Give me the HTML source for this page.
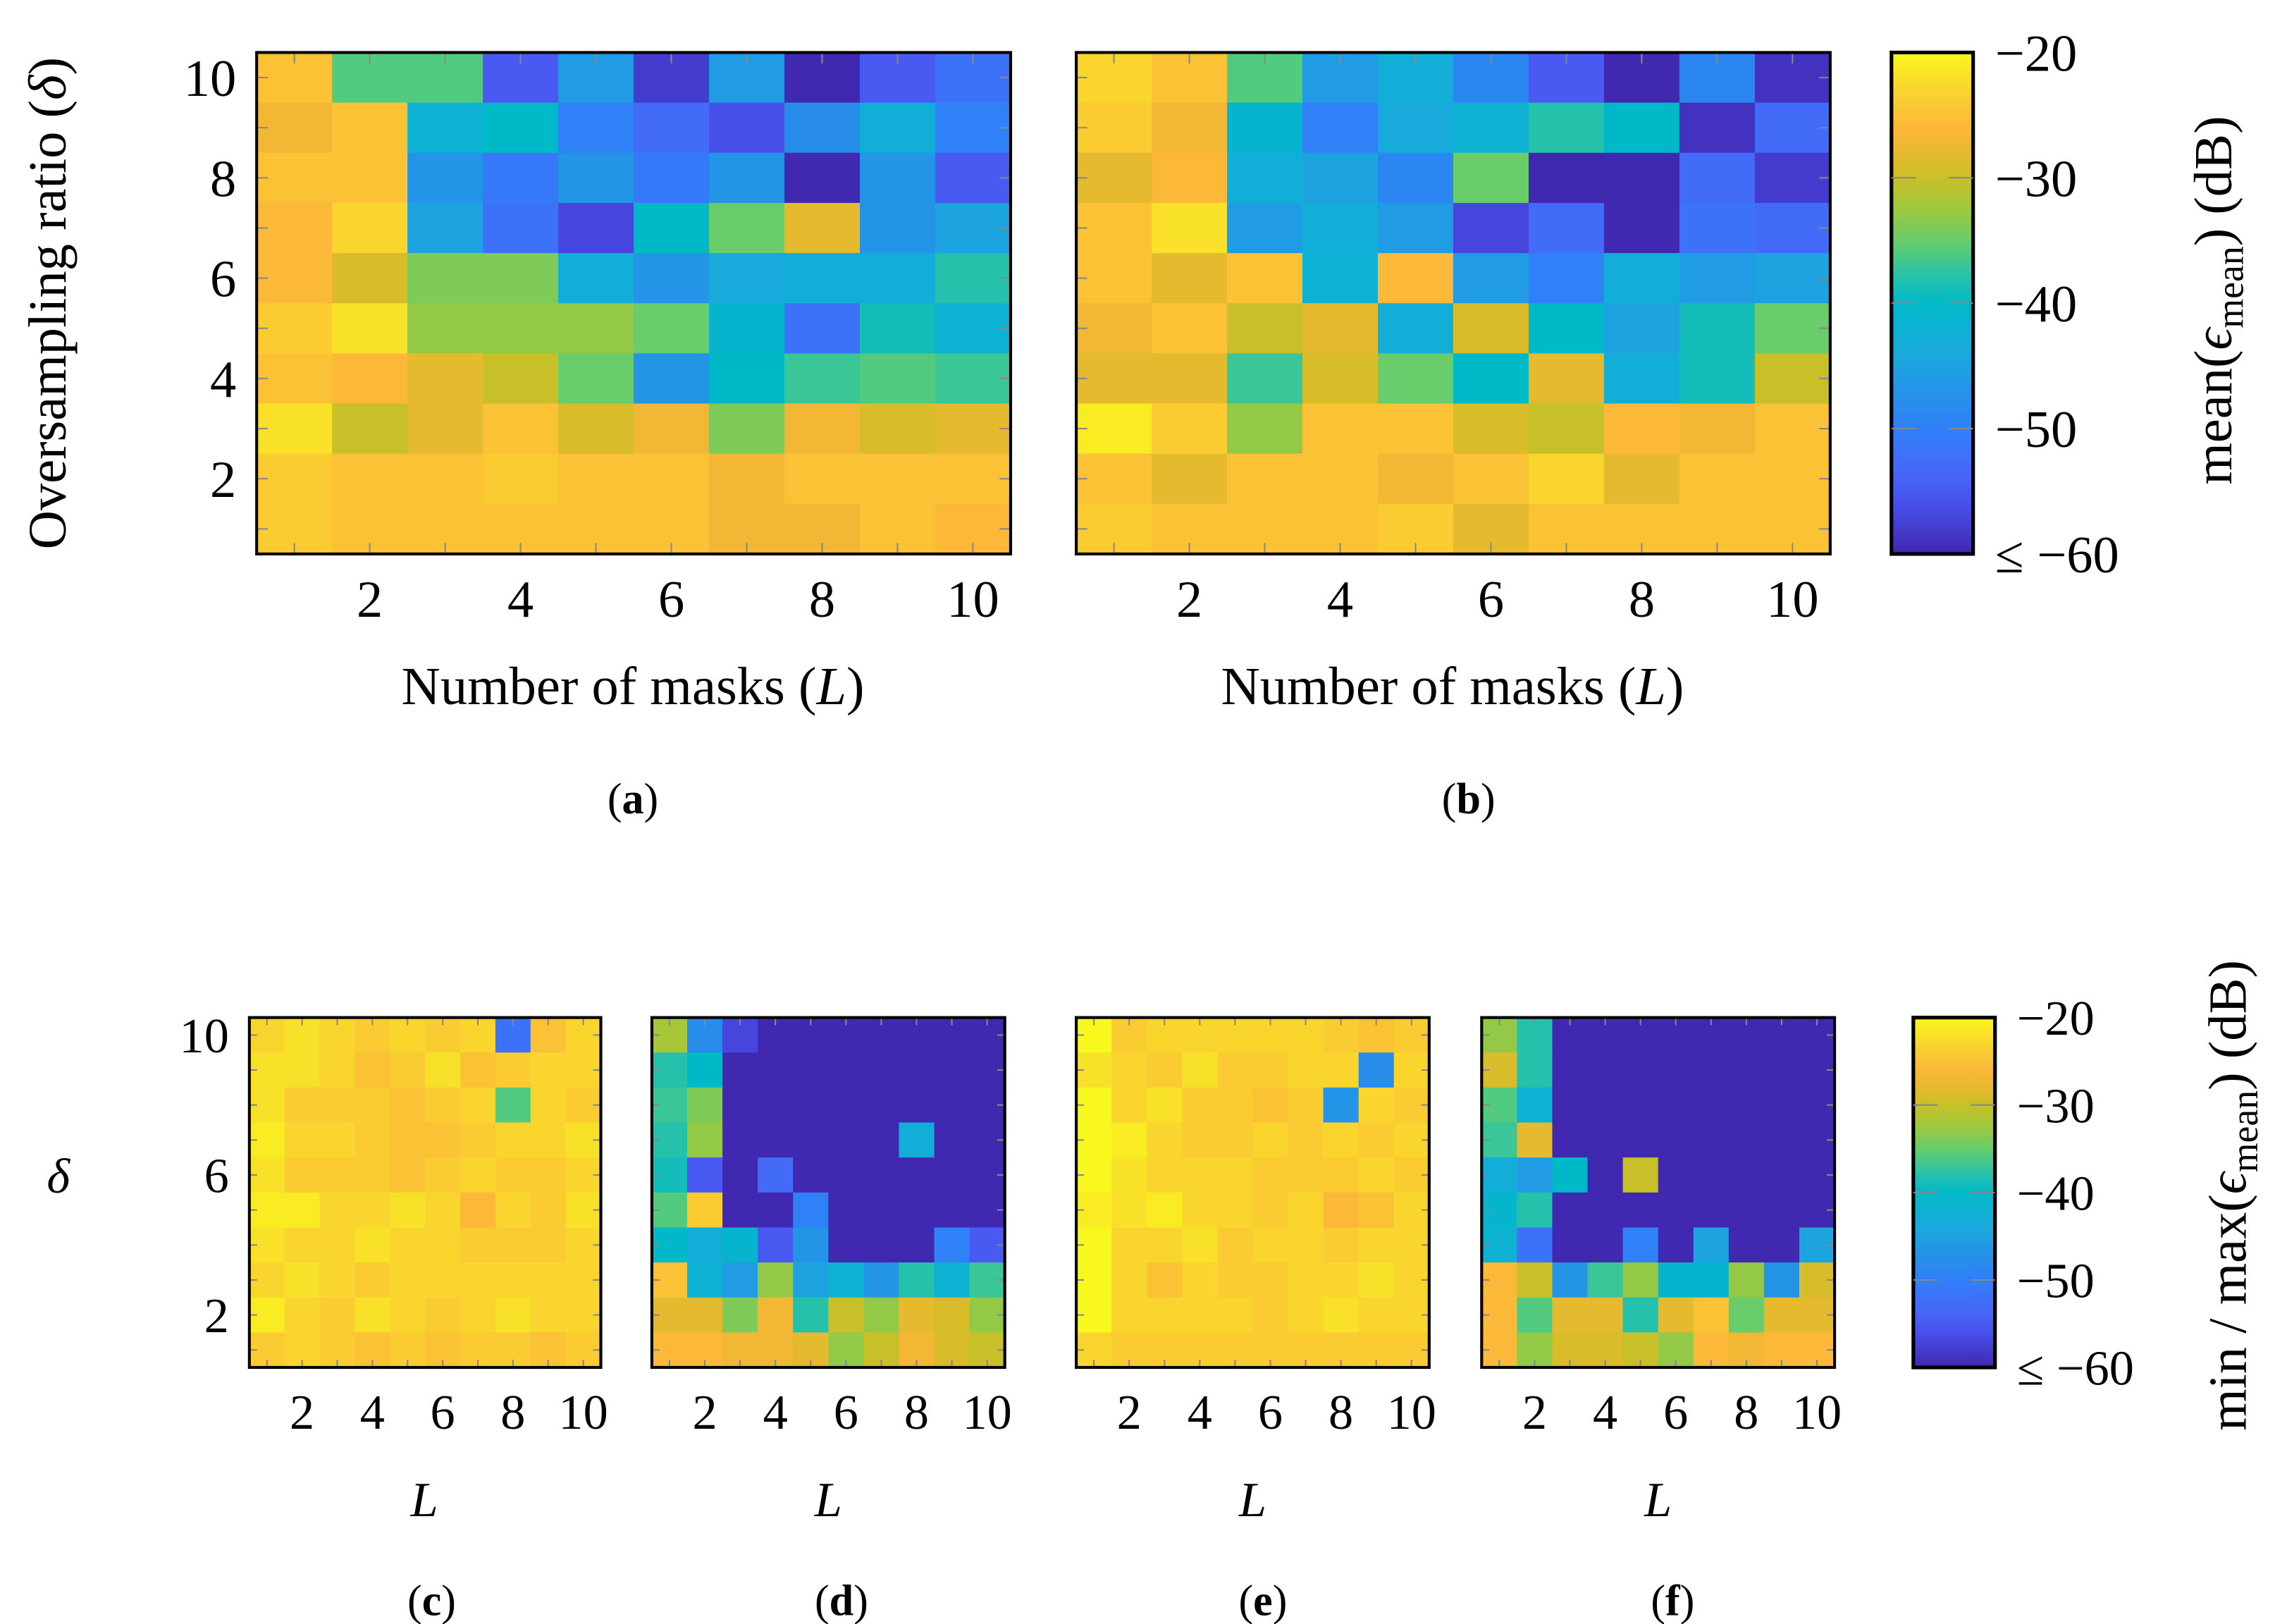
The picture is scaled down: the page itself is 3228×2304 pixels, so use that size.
<!DOCTYPE html>
<html><head><meta charset="utf-8"><style>
html,body{margin:0;padding:0;background:#fff;}
svg{display:block;}
text{font-family:"Liberation Serif",serif;fill:#000;}
</style></head><body>
<svg id="fig" width="3228" height="2304" viewBox="0 0 1560 1114" preserveAspectRatio="none" xmlns="http://www.w3.org/2000/svg">
<defs>
<linearGradient id="cbgrad" x1="0" y1="1" x2="0" y2="0">
<stop offset="0" stop-color="rgb(64,40,176)"/><stop offset="0.1" stop-color="rgb(72,80,235)"/>
<stop offset="0.15" stop-color="rgb(72,100,248)"/><stop offset="0.25" stop-color="rgb(48,128,248)"/>
<stop offset="0.3" stop-color="rgb(40,140,235)"/><stop offset="0.4" stop-color="rgb(25,170,220)"/>
<stop offset="0.5" stop-color="rgb(0,185,200)"/><stop offset="0.56" stop-color="rgb(45,195,165)"/>
<stop offset="0.62" stop-color="rgb(100,205,110)"/><stop offset="0.69" stop-color="rgb(160,200,60)"/>
<stop offset="0.75" stop-color="rgb(200,192,40)"/><stop offset="0.77" stop-color="rgb(215,188,40)"/>
<stop offset="0.845" stop-color="rgb(252,182,58)"/><stop offset="0.93" stop-color="rgb(250,215,45)"/>
<stop offset="1" stop-color="rgb(248,248,30)"/>
</linearGradient>
</defs>
</svg>
<script>
const Lvals=[1,2,3,4,5,6,7,8,9,10];
const deltas=[10,9,8,7,6,5,4,3,2,1];
const xTickLabels=[2,4,6,8,10];
const yTickLabelsTop=[10,8,6,4,2];
const yTickLabelsBottom=[10,6,2];
const cbTickValues=[-20,-30,-40,-50,-60];
const cbTickLabels=["−20","−30","−40","−50","≤ −60"];
const dataA=[
[-25,-36,-36,-55,-46,-58,-46,-60,-55,-52],
[-27,-25,-42,-40,-50,-53,-56,-48,-43,-50],
[-25,-25,-47,-51,-47,-51,-47,-60,-47,-55],
[-26,-23,-45,-52,-57,-40,-35,-28,-47,-45],
[-26,-29,-34,-34,-43,-47,-44,-43,-43,-38],
[-24,-22,-33,-33,-33,-35,-41,-52,-39,-42],
[-25,-26,-28,-30,-35,-47,-40,-37,-36,-37],
[-22,-30,-28,-25,-29,-27,-34,-27,-29,-28],
[-24,-25,-25,-24,-25,-25,-27,-25,-25,-25],
[-24,-25,-25,-25,-25,-25,-27,-27,-25,-26]];
const dataB=[
[-23,-25,-36,-46,-43,-49,-55,-60,-49,-59],
[-24,-27,-41,-50,-44,-42,-38,-40,-59,-53],
[-28,-26,-43,-45,-49,-35,-60,-60,-53,-58],
[-25,-22,-46,-43,-46,-57,-53,-60,-52,-53],
[-25,-28,-25,-42,-26,-46,-50,-43,-46,-45],
[-27,-25,-30,-28,-43,-29,-40,-45,-39,-35],
[-28,-28,-37,-29,-35,-40,-28,-43,-39,-30],
[-21,-24,-33,-25,-25,-29,-30,-26,-27,-25],
[-25,-28,-25,-25,-27,-25,-23,-28,-25,-25],
[-24,-25,-25,-25,-24,-28,-25,-25,-25,-25]];
const dataC=[
[-23,-22,-23,-24,-23,-24,-23,-52,-25,-23],
[-22,-22,-23,-25,-24,-22,-25,-24,-23,-23],
[-22,-24,-24,-24,-25,-24,-23,-36,-23,-24],
[-21,-23,-23,-24,-25,-25,-24,-23,-23,-22],
[-22,-24,-24,-24,-25,-24,-23,-24,-24,-23],
[-21,-21,-23,-23,-22,-23,-26,-23,-24,-22],
[-22,-23,-23,-22,-23,-23,-24,-24,-24,-23],
[-23,-22,-23,-24,-23,-23,-23,-23,-23,-23],
[-21,-23,-24,-22,-23,-24,-23,-22,-23,-23],
[-24,-23,-24,-25,-24,-25,-24,-24,-25,-24]];
const dataD=[
[-32,-48,-57,-60,-60,-60,-60,-60,-60,-60],
[-38,-40,-60,-60,-60,-60,-60,-60,-60,-60],
[-37,-34,-60,-60,-60,-60,-60,-60,-60,-60],
[-38,-33,-60,-60,-60,-60,-60,-43,-60,-60],
[-39,-55,-60,-53,-60,-60,-60,-60,-60,-60],
[-36,-24,-60,-60,-50,-60,-60,-60,-60,-60],
[-40,-43,-41,-55,-47,-60,-60,-60,-50,-55],
[-25,-42,-46,-33,-45,-42,-47,-38,-42,-37],
[-28,-28,-34,-27,-38,-30,-33,-28,-29,-33],
[-26,-26,-27,-27,-28,-33,-30,-27,-29,-30]];
const dataE=[
[-20,-24,-23,-23,-23,-23,-23,-24,-25,-24],
[-22,-23,-24,-22,-24,-24,-23,-23,-48,-23],
[-20,-23,-22,-24,-24,-25,-24,-47,-23,-24],
[-19,-21,-23,-24,-24,-23,-24,-23,-24,-23],
[-20,-22,-23,-23,-23,-24,-24,-24,-23,-24],
[-21,-22,-21,-23,-23,-24,-23,-26,-25,-23],
[-20,-23,-23,-22,-24,-23,-23,-24,-23,-23],
[-20,-23,-25,-23,-24,-24,-23,-23,-22,-23],
[-20,-23,-23,-23,-23,-24,-23,-22,-23,-23],
[-23,-24,-24,-24,-24,-24,-24,-24,-24,-24]];
const dataF=[
[-33,-38,-60,-60,-60,-60,-60,-60,-60,-60],
[-29,-38,-60,-60,-60,-60,-60,-60,-60,-60],
[-36,-42,-60,-60,-60,-60,-60,-60,-60,-60],
[-37,-28,-60,-60,-60,-60,-60,-60,-60,-60],
[-43,-46,-40,-60,-30,-60,-60,-60,-60,-60],
[-41,-38,-60,-60,-60,-60,-60,-60,-60,-60],
[-42,-52,-60,-60,-50,-60,-45,-60,-60,-45],
[-26,-30,-47,-37,-33,-41,-41,-33,-47,-29],
[-26,-36,-28,-28,-38,-28,-25,-35,-28,-28],
[-26,-33,-29,-29,-30,-33,-26,-27,-26,-26]];

const NS="http://www.w3.org/2000/svg";
const svg=document.getElementById('fig');
const stops=[[0,[64,40,176]],[0.1,[72,80,235]],[0.15,[72,100,248]],[0.25,[48,128,248]],[0.3,[40,140,235]],[0.4,[25,170,220]],[0.5,[0,185,200]],[0.56,[45,195,165]],[0.62,[100,205,110]],[0.69,[160,200,60]],[0.75,[200,192,40]],[0.77,[215,188,40]],[0.845,[252,182,58]],[0.93,[250,215,45]],[1,[248,248,30]]];
function cmap(v){let t=Math.max(0,Math.min(1,(v+60)/40));
 for(let i=1;i<stops.length;i++){if(t<=stops[i][0]){const a=stops[i-1],b=stops[i];const f=(t-a[0])/(b[0]-a[0]);
 const c=a[1].map((x,k)=>Math.round(x+(b[1][k]-x)*f));return `rgb(${c[0]},${c[1]},${c[2]})`;}}
 return 'rgb(248,248,30)';}
function mk(tag,attrs,parent){const e=document.createElementNS(NS,tag);for(const k in attrs)e.setAttribute(k,attrs[k]);(parent||svg).appendChild(e);return e;}
function txt(x,y,s,size,parent,anchor){const t=mk('text',{x:x,y:y,'font-size':size,'text-anchor':anchor||'middle'},parent);t.textContent=s;return t;}

function panel(name,data,x0,y0,w,h,fs,yLabels,xlabelY,ylabelX){
 const g=mk('g',{});
 
 
 const cw=w/Lvals.length,ch=h/deltas.length;
 const xs=L=>x0+(L-0.5)*cw, ys=d=>y0+h-(d-0.5)*ch;
 deltas.forEach((d,r)=>Lvals.forEach((L,c)=>{
  const cell=mk('rect',{x:xs(L)-cw/2,y:ys(d)-ch/2,width:cw+0.4,height:ch+0.4,fill:cmap(data[r][c])},g);
  
  
 }));
 const tl=Math.min(cw,ch)*0.22;
 Lvals.forEach(L=>{mk('line',{x1:xs(L),x2:xs(L),y1:y0+h,y2:y0+h-tl,stroke:'#888','stroke-width':1},g);mk('line',{x1:xs(L),x2:xs(L),y1:y0,y2:y0+tl,stroke:'#888','stroke-width':1},g);});
 deltas.forEach(d=>{mk('line',{x1:x0,x2:x0+tl,y1:ys(d),y2:ys(d),stroke:'#888','stroke-width':1},g);mk('line',{x1:x0+w,x2:x0+w-tl,y1:ys(d),y2:ys(d),stroke:'#888','stroke-width':1},g);});
 const fr=mk('rect',{x:x0,y:y0,width:w,height:h,fill:'none',stroke:'#000','stroke-width':2},g);
 
 
 xTickLabels.forEach(L=>{const t=txt(xs(L),xlabelY,String(L),fs,g);
  
  });
 if(yLabels)yLabels.forEach(d=>{const t=txt(ylabelX,ys(d)+fs*0.35,String(d),fs,g,'end');
  
  });
}
function colorbar(name,x0,y0,w,h,lx,fs){
 const g=mk('g',{});
 
 
 mk('rect',{x:x0,y:y0,width:w,height:h,fill:'url(#cbgrad)',stroke:'#000','stroke-width':2.5},g);
 const yv=v=>y0+h*(-20-v)/40;
 cbTickValues.forEach((v,i)=>{
  if(i>0&&i<4){mk('line',{x1:x0,x2:x0+w*0.3,y1:yv(v),y2:yv(v),stroke:'#888','stroke-width':1},g);mk('line',{x1:x0+w*0.7,x2:x0+w,y1:yv(v),y2:yv(v),stroke:'#888','stroke-width':1},g);}
  const t=txt(lx,yv(v)+fs*0.35,cbTickLabels[i],fs,g,'start');
  
  
 });
}
panel('heatmap-a',dataA,176,36,517,344,36,yTickLabelsTop,423,162);
panel('heatmap-b',dataB,738,36,517,344,36,null,423,0);
colorbar('colorbar-mean',1297,36,56,344,1368,36);
panel('heatmap-c',dataC,171,698,241,240,34,yTickLabelsBottom,980,157);
panel('heatmap-d',dataD,447,698,242,240,34,null,980,0);
panel('heatmap-e',dataE,738,698,242,240,34,null,980,0);
panel('heatmap-f',dataF,1016,698,242,240,34,null,980,0);
colorbar('colorbar-minmax',1312,698,56,240,1383,34);

function label(x,y,s,fs,name,rot){const t=txt(x,y,'',fs);t.innerHTML=s;
 
 
 if(rot)t.setAttribute('transform',`rotate(-90 ${x} ${y})`);return t;}
label(434,483,'Number of masks (<tspan font-style="italic">L</tspan>)',37,'x-axis-title-a');
label(996,483,'Number of masks (<tspan font-style="italic">L</tspan>)',37,'x-axis-title-b');
label(45,208,'Oversampling ratio (<tspan font-style="italic">δ</tspan>)',37,'y-axis-title-top',true);
label(1530,206,'mean(<tspan font-style="italic">ϵ</tspan><tspan font-size="26" dy="8">mean</tspan><tspan dy="-8">) (dB)</tspan>',37,'colorbar-title-mean',true);
label(1540,820,'min / max(<tspan font-style="italic">ϵ</tspan><tspan font-size="26" dy="8">mean</tspan><tspan dy="-8">) (dB)</tspan>',37,'colorbar-title-minmax',true);
label(40,818,'<tspan font-style="italic">δ</tspan>',34,'y-axis-title-bottom');
[291,568,859,1137].forEach((x,i)=>label(x,1040,'<tspan font-style="italic">L</tspan>',34,'x-axis-title-'+'cdef'[i]));
[['(<tspan font-weight="bold">a</tspan>)',434,558],['(<tspan font-weight="bold">b</tspan>)',1007,558],['(<tspan font-weight="bold">c</tspan>)',296,1108],['(<tspan font-weight="bold">d</tspan>)',577,1108],['(<tspan font-weight="bold">e</tspan>)',866,1108],['(<tspan font-weight="bold">f</tspan>)',1147,1108]].forEach((c,i)=>label(c[1],c[2],c[0],30,'caption-'+'abcdef'[i]));
</script>
</body></html>
